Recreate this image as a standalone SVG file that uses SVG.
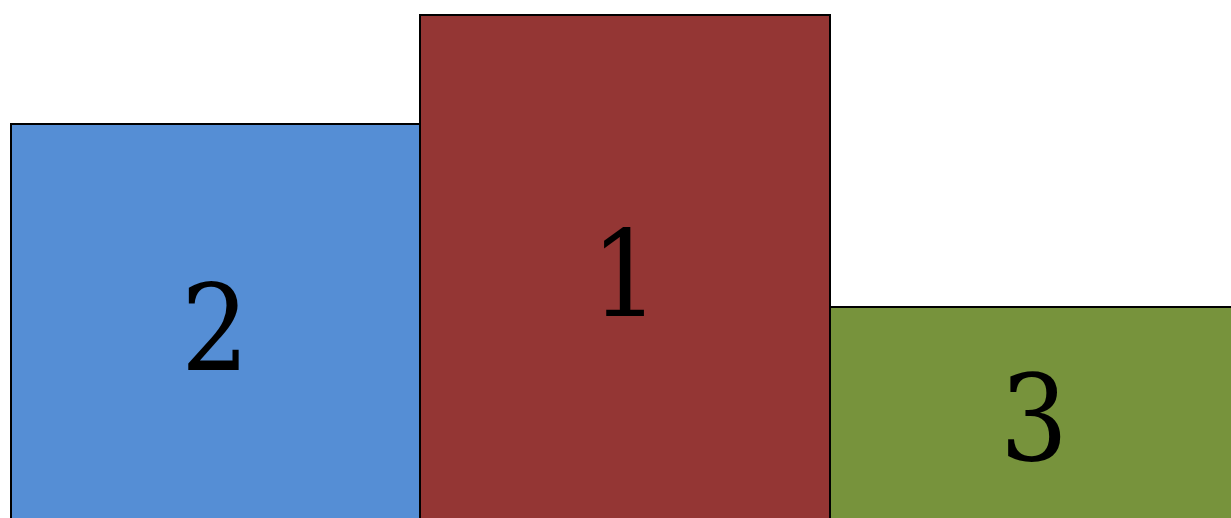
<svg xmlns="http://www.w3.org/2000/svg" width="1231" height="518" viewBox="0 0 1231 518">
<style>
.box{stroke:#000;stroke-width:2}
.lbl{font-family:"DejaVu Serif Condensed","DejaVu Serif",serif;font-size:119px;fill:#000;text-anchor:middle}
</style>
<rect width="1231" height="518" fill="#fff"/>
<g id="second"><rect class="box" x="11" y="124" width="409" height="400" fill="#558ED5"/><text class="lbl" x="215" y="370">2</text></g>
<g id="first"><rect class="box" x="420" y="15" width="410" height="510" fill="#943634"/><text class="lbl" x="625" y="316">1</text></g>
<g id="third"><rect class="box" x="830" y="307" width="410" height="220" fill="#77933C"/><text class="lbl" x="1034" y="460">3</text></g>
<g id="connectors"/>
</svg>
